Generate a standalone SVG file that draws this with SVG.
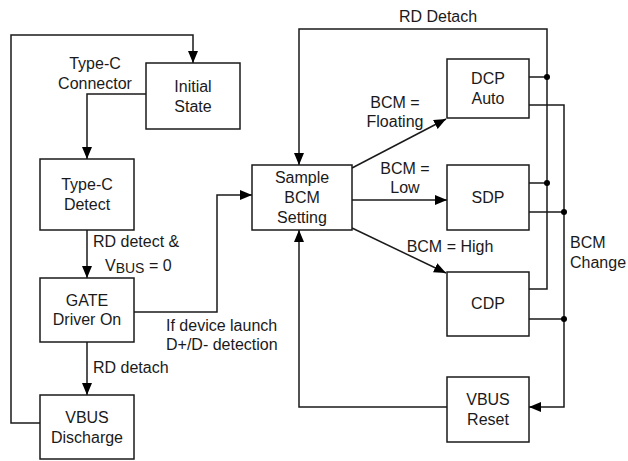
<svg xmlns="http://www.w3.org/2000/svg" width="628" height="461" viewBox="0 0 628 461">
<defs>
<style>
.box{fill:#fff;stroke:#1a1a1a;stroke-width:1.5}
.ln{fill:none;stroke:#1a1a1a;stroke-width:1.5}
text{font-family:"Liberation Sans",Arial,sans-serif;font-size:16px;fill:#1a1a1a}
.c{text-anchor:middle}
.dot{fill:#000}
</style>
<marker id="ah" markerUnits="userSpaceOnUse" markerWidth="12" markerHeight="10" viewBox="0 0 12 10" refX="12" refY="5" orient="auto">
<path d="M0,0 L12,5 L0,10 Z" fill="#000"/>
</marker>
</defs>
<rect width="628" height="461" fill="#fff"/>
<g id="connectors">
<path class="ln" d="M40,423 H11 V35 H193 V63" marker-end="url(#ah)"/>
<path class="ln" d="M146,94 H87 V159" marker-end="url(#ah)"/>
<path class="ln" d="M87,230 V278" marker-end="url(#ah)"/>
<path class="ln" d="M134,312 H217 V195 H252" marker-end="url(#ah)"/>
<path class="ln" d="M87,342 V395" marker-end="url(#ah)"/>
<path class="ln" d="M529,289 H547 V29 H299 V165" marker-end="url(#ah)"/>
<path class="ln" d="M529,77 H547 M529,183 H547"/>
<path class="ln" d="M529,105 H564 V407 H529" marker-end="url(#ah)"/>
<path class="ln" d="M529,212 H564 M529,319 H564"/>
<path class="ln" d="M447,407 H299 V230" marker-end="url(#ah)"/>
<path class="ln" d="M352,168 L446,119" marker-end="url(#ah)"/>
<path class="ln" d="M352,200 H447" marker-end="url(#ah)"/>
<path class="ln" d="M352,228 L446,273" marker-end="url(#ah)"/>
<circle class="dot" cx="547" cy="77" r="3"/>
<circle class="dot" cx="547" cy="183" r="3"/>
<circle class="dot" cx="564" cy="212" r="3"/>
<circle class="dot" cx="564" cy="319" r="3"/>
<text class="c" x="95" y="69">Type-C</text>
<text class="c" x="95" y="89">Connector</text>
<text x="93" y="247">RD detect &amp;</text>
<text x="105" y="271">V<tspan font-size="14" dy="2">BUS</tspan><tspan dy="-2"> = 0</tspan></text>
<text x="166" y="331">If device launch</text>
<text x="166" y="350">D+/D- detection</text>
<text x="93" y="373">RD detach</text>
<text class="c" x="438" y="22">RD Detach</text>
<text class="c" x="395" y="108">BCM =</text>
<text class="c" x="395" y="127">Floating</text>
<text class="c" x="405" y="174">BCM =</text>
<text class="c" x="405" y="193">Low</text>
<text class="c" x="450" y="252">BCM = High</text>
<text x="570" y="248">BCM</text>
<text x="570" y="268">Change</text>
</g>
<g id="initial-state"><rect class="box" x="146" y="63" width="94" height="66"/><text class="c" x="193" y="92">Initial</text><text class="c" x="193" y="112">State</text></g>
<g id="typec-detect"><rect class="box" x="40" y="159" width="94" height="71"/><text class="c" x="87" y="190">Type-C</text><text class="c" x="87" y="210">Detect</text></g>
<g id="gate-driver"><rect class="box" x="40" y="278" width="94" height="64"/><text class="c" x="87" y="306">GATE</text><text class="c" x="87" y="325">Driver On</text></g>
<g id="vbus-discharge"><rect class="box" x="40" y="395" width="94" height="64"/><text class="c" x="87" y="423">VBUS</text><text class="c" x="87" y="443">Discharge</text></g>
<g id="sample-bcm"><rect class="box" x="252" y="165" width="100" height="65"/><text class="c" x="302" y="183">Sample</text><text class="c" x="302" y="203">BCM</text><text class="c" x="302" y="223">Setting</text></g>
<g id="dcp-auto"><rect class="box" x="447" y="59" width="82" height="59"/><text class="c" x="488" y="84">DCP</text><text class="c" x="488" y="104">Auto</text></g>
<g id="sdp"><rect class="box" x="447" y="165" width="82" height="65"/><text class="c" x="488" y="203">SDP</text></g>
<g id="cdp"><rect class="box" x="447" y="272" width="82" height="64"/><text class="c" x="488" y="309">CDP</text></g>
<g id="vbus-reset"><rect class="box" x="447" y="377" width="82" height="65"/><text class="c" x="488" y="405">VBUS</text><text class="c" x="488" y="425">Reset</text></g>
</svg>
